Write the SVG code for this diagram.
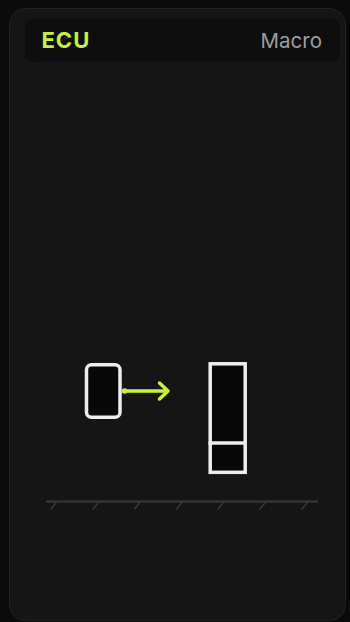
<svg xmlns="http://www.w3.org/2000/svg" width="350" height="622" viewBox="0 0 350 622">
  <defs>
    <style>
      .hatch { stroke: #3a3a3a; stroke-width: 1.5; stroke-linecap: round; }
      .part { fill: #080808; stroke: #eeeeee; stroke-width: 3.5; }
      .accent { stroke: #c6f432; stroke-width: 3.5; fill: none; }
    </style>
  </defs>
  <rect x="0" y="0" width="350" height="622" fill="#0b0b0b"/>
  <g id="card">
    <rect x="9.5" y="8.5" width="336" height="612" rx="16" fill="#151515" stroke="#232323" stroke-width="1"/>
  </g>
  <g id="header">
    <rect x="25" y="19" width="315" height="43" rx="8" fill="#0e0e0e"/>
    <text x="41.5" y="47.5" font-family="Inter, 'Liberation Sans', sans-serif" font-size="22" font-weight="700" letter-spacing="1" fill="#c6f432">ECU</text>
    <text x="322" y="47.5" text-anchor="end" font-family="Inter, 'Liberation Sans', sans-serif" font-size="20.5" fill="#9e9e9e">Macro</text>
  </g>
  <g id="ground">
    <line x1="46" y1="501.5" x2="318" y2="501.5" stroke="#3a3a3a" stroke-width="2"/>
    <line class="hatch" x1="56" y1="503" x2="51" y2="509"/>
    <line class="hatch" x1="98" y1="503" x2="93" y2="509"/>
    <line class="hatch" x1="139.5" y1="503" x2="134.5" y2="509"/>
    <line class="hatch" x1="181.5" y1="503" x2="176.5" y2="509"/>
    <line class="hatch" x1="223" y1="503" x2="218" y2="509"/>
    <line class="hatch" x1="265" y1="503" x2="260" y2="509"/>
    <line class="hatch" x1="307" y1="503" x2="302" y2="509"/>
  </g>
  <g id="ecu">
    <rect class="part" x="86.5" y="364.8" width="33.5" height="52.5" rx="5"/>
  </g>
  <g id="stack">
    <rect class="part" x="210.2" y="363.8" width="35" height="108.5" fill="#101010"/>
    <line x1="208.5" y1="443" x2="245.2" y2="443" stroke="#eeeeee" stroke-width="3.5"/>
  </g>
  <g id="connectors">
    <circle cx="124.5" cy="391" r="2.8" fill="#c6f432"/>
    <line class="accent" x1="124.5" y1="391" x2="167" y2="391"/>
    <polyline class="accent" points="159.5,383 168,391 159.5,399" stroke-linecap="round" stroke-linejoin="round"/>
  </g>
</svg>
